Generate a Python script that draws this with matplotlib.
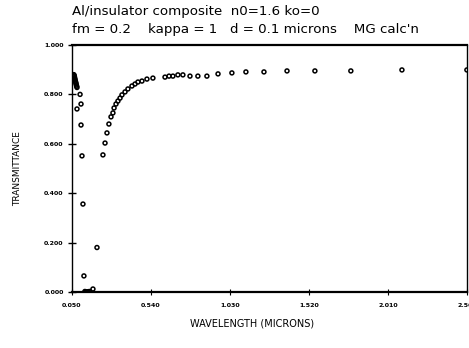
import numpy as np
import matplotlib
matplotlib.use('Agg')
import matplotlib.pyplot as plt

# ==========================================
# DATOS
# ==========================================

# rama corta (cerca de 0.05 micrones), incluye el racimo denso
lam_corta = [0.055, 0.057, 0.059, 0.061, 0.063, 0.065, 0.067, 0.069, 0.071,
             0.073, 0.075, 0.077, 0.079, 0.081, 0.100, 0.106, 0.081, 0.106,
             0.112, 0.118, 0.124, 0.130, 0.137, 0.144, 0.151, 0.158, 0.180,
             0.205]
T_corta = [0.862, 0.872, 0.878, 0.880, 0.877, 0.872, 0.866, 0.860, 0.854,
           0.849, 0.844, 0.838, 0.833, 0.828, 0.800, 0.761, 0.741, 0.676,
           0.551, 0.356, 0.065, 0.002, 0.000, 0.000, 0.001, 0.002, 0.012,
           0.180]

# rama larga (recuperacion hacia ~0.9)
lam_larga = [0.242, 0.255, 0.267, 0.279, 0.292, 0.304, 0.311, 0.323, 0.335,
             0.348, 0.360, 0.379, 0.397, 0.422, 0.441, 0.459, 0.484, 0.515,
             0.552, 0.627, 0.652, 0.676, 0.707, 0.738, 0.782, 0.831, 0.887,
             0.956, 1.042, 1.129, 1.241, 1.384, 1.557, 1.780, 2.097, 2.500]
T_larga = [0.555, 0.603, 0.644, 0.680, 0.709, 0.725, 0.745, 0.761, 0.773,
           0.785, 0.798, 0.810, 0.822, 0.834, 0.842, 0.850, 0.854, 0.862,
           0.866, 0.870, 0.874, 0.874, 0.879, 0.879, 0.874, 0.874, 0.874,
           0.883, 0.887, 0.891, 0.891, 0.895, 0.895, 0.895, 0.899, 0.899]

x_ticks = [0.050, 0.540, 1.030, 1.520, 2.010, 2.500]
y_ticks = [0.0, 0.2, 0.4, 0.6, 0.8, 1.0]

titulo_1 = "Al/insulator composite  n0=1.6 ko=0"
titulo_2 = "fm = 0.2    kappa = 1   d = 0.1 microns    MG calc'n"

# ==========================================
# GRAFICO
# ==========================================

fig = plt.figure(figsize=(4.69, 3.48), dpi=100)
ax = fig.add_axes([0.1535, 0.161, 0.842, 0.7097])

estilo = dict(marker='o', s=8, facecolors='none', edgecolors='black',
              linewidths=1.1)
ax.scatter(lam_corta, T_corta, **estilo)
ax.scatter(lam_larga, T_larga, **estilo)

ax.set_xlim(0.05, 2.5)
ax.set_ylim(0.0, 1.0)
ax.set_xticks(x_ticks)
ax.set_yticks(y_ticks)
ax.set_xticklabels(['%.3f' % v for v in x_ticks])
ax.set_yticklabels(['%.3f' % v for v in y_ticks])

for lado in ['left', 'right']:
    ax.spines[lado].set_linewidth(1.0)
for lado in ['top', 'bottom']:
    ax.spines[lado].set_linewidth(1.6)

ax.tick_params(axis='y', direction='inout', length=6, width=1.0, pad=3,
               labelsize=4.5)
ax.tick_params(axis='x', direction='inout', length=4, width=0.8, pad=6,
               labelsize=4.5)
for lbl in ax.get_xticklabels() + ax.get_yticklabels():
    lbl.set_fontweight('bold')

ax.set_xlabel('WAVELENGTH (MICRONS)', fontsize=7)
ax.xaxis.set_label_coords(0.456, -0.126)
ax.xaxis.label.set_va('center')
ax.set_ylabel('TRANSMITTANCE', fontsize=6.5, labelpad=16)

fig.text(72 / 469, 1 - 12 / 348, titulo_1, fontsize=9.6, va='center', ha='left')
fig.text(72 / 469, 1 - 29 / 348, titulo_2, fontsize=9.6, va='center', ha='left')

fig.savefig('out.png', dpi=100)
